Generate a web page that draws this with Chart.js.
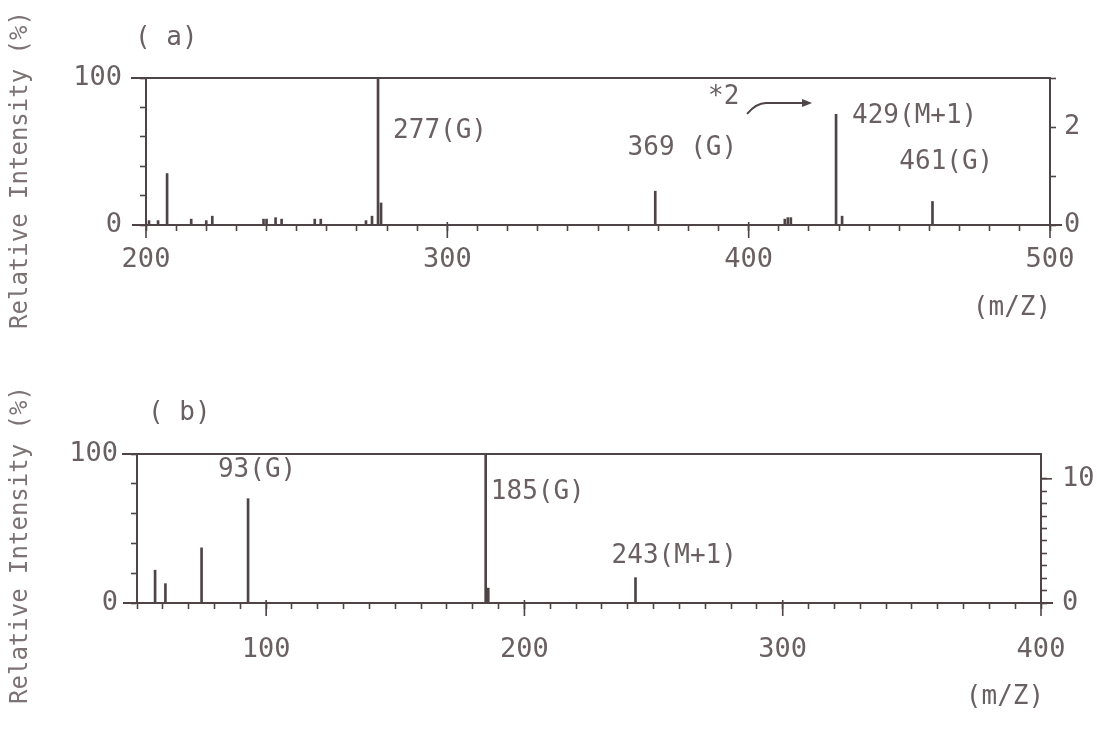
<!DOCTYPE html>
<html>
<head>
<meta charset="utf-8">
<script src="https://cdn.jsdelivr.net/npm/chart.js@4.4.1/dist/chart.umd.min.js"></script>
<style>
  html, body { margin: 0; padding: 0; background: #fff; }
  #wrap { position: relative; width: 1097px; height: 736px; overflow: hidden; }
  canvas { position: absolute; left: 0; }
  #panelA { top: 0; }
  #panelB { top: 370px; }
</style>
</head>
<body>
<div id="wrap">
  <canvas id="panelA" width="1097" height="370"></canvas>
  <canvas id="panelB" width="1097" height="366"></canvas>
</div>
<script>
// ---- data ----
// (a) peaks on the left % scale
const mzA  = [201, 204, 207, 215, 220, 222, 239, 240, 243, 245, 256, 258, 273, 275, 277, 278, 369, 412, 413, 414, 431, 461];
const intA = [3,   3,   35,  4,   3,   6,   4,   4,   5,   4,   4,   4,   3,   6,   100, 15,  23,  4,   5,   5,   6,   16];
// (a) peak read on the right-hand scale (*2)
const mzA2  = [429];
const intA2 = [2.26];
// (b) peaks
const mzB  = [57, 61, 75, 93, 185, 186, 243];
const intB = [22, 13, 37, 70, 100, 10, 17];

const ticksLeft   = [0, 100];
const ticksRightA = [0, 2];
const ticksRightB = [0, 10];

const INK = '#4e4345';
const TEXT = '#6a6062';
const TITLE = '#7d7375';
const FONT = "'DejaVu Sans Mono', monospace";

// labels placed in data units (x = m/z, y = % on left scale)
const notesA = [
  { text: '277(G)',   x: 282,   y: 64, align: 'left' },
  { text: '369 (G)',  x: 378,   y: 52, align: 'center' },
  { text: '429(M+1)', x: 434.3, y: 74, align: 'left' },
  { text: '461(G)',   x: 450,   y: 43, align: 'left' },
  { text: '*2',       x: 386.5, y: 87, align: 'left' }
];
const notesB = [
  { text: '93(G)',    x: 96.5,  y: 89,   align: 'center' },
  { text: '185(G)',   x: 187,   y: 74.5, align: 'left' },
  { text: '243(M+1)', x: 258,   y: 31.5, align: 'center' }
];

const framePlugin = {
  id: 'frame',
  afterDraw(chart, args, o) {
    const { ctx, chartArea: a, scales } = chart;
    const xs = scales.x, ys = scales.y;
    ctx.save();
    // box top and baseline running past the axes
    ctx.strokeStyle = INK;
    ctx.lineWidth = 2;
    ctx.beginPath();
    ctx.moveTo(a.left - 15, a.top);
    ctx.lineTo(a.right + 1, a.top);
    ctx.moveTo(a.left - 14, a.bottom);
    ctx.lineTo(a.right + 12, a.bottom);
    ctx.stroke();
    // longer ticks at every hundred
    ctx.lineWidth = 1.6;
    for (let v = Math.ceil(xs.min / 100) * 100; v <= xs.max; v += 100) {
      const px = xs.getPixelForValue(v);
      ctx.beginPath();
      ctx.moveTo(px, a.bottom - 3);
      ctx.lineTo(px, a.bottom + 13);
      ctx.stroke();
    }
    // longer tick at the labelled right-hand value
    if (o.rightMajor) {
      const py = scales.y1.getPixelForValue(o.rightMajor);
      ctx.beginPath();
      ctx.moveTo(a.right, py);
      ctx.lineTo(a.right + 11, py);
      ctx.stroke();
    }
    // arrow for the *2 peak
    if (o.arrowAt) {
      const ex = xs.getPixelForValue(o.arrowAt) - 24;
      const ey = ys.getPixelForValue(83);
      ctx.lineWidth = 2;
      ctx.beginPath();
      ctx.moveTo(ex - 65, ey + 11);
      ctx.quadraticCurveTo(ex - 56, ey, ex - 46, ey);
      ctx.lineTo(ex - 6, ey);
      ctx.stroke();
      ctx.fillStyle = INK;
      ctx.beginPath();
      ctx.moveTo(ex, ey);
      ctx.lineTo(ex - 10, ey - 4);
      ctx.lineTo(ex - 10, ey + 4);
      ctx.closePath();
      ctx.fill();
    }
    // peak labels
    ctx.fillStyle = TEXT;
    ctx.font = '26px ' + FONT;
    ctx.textBaseline = 'middle';
    o.notes.forEach(n => {
      ctx.textAlign = n.align;
      ctx.fillText(n.text, xs.getPixelForValue(n.x), ys.getPixelForValue(n.y));
    });
    // panel tag and unit
    ctx.textAlign = 'left';
    ctx.fillText(o.tag, o.tagX, o.tagY);
    ctx.textAlign = 'center';
    ctx.fillText('(m/Z)', o.unitX, o.unitY);
    // y title
    ctx.fillStyle = TITLE;
    ctx.font = '24px ' + FONT;
    ctx.translate(21, o.titleY);
    ctx.rotate(-Math.PI / 2);
    ctx.fillText('Relative Intensity (%)', 0, 0);
    ctx.restore();
  }
};

function axisX(min, max, pad) {
  return {
    type: 'linear', position: 'bottom', min: min, max: max, offset: false,
    border: { color: INK, width: 2 },
    grid: { display: true, drawOnChartArea: false, offset: false, tickLength: 6, tickColor: INK, tickWidth: 1.6 },
    ticks: {
      stepSize: 10, autoSkip: false, maxRotation: 0, padding: pad,
      color: TEXT, font: { family: FONT, size: 27 },
      callback: v => (v % 100 === 0 ? v : '')
    }
  };
}

function axisY(pos, max, step, labels, pad, lastTick) {
  return {
    type: 'linear', position: pos, min: 0, max: max,
    border: { color: INK, width: 2 },
    grid: {
      display: true, drawOnChartArea: false, tickLength: 6, tickWidth: 1.6,
      tickColor: c => (c.tick && c.tick.value > lastTick ? 'rgba(0,0,0,0)' : INK)
    },
    ticks: {
      stepSize: step, autoSkip: false, padding: pad,
      color: TEXT, font: { family: FONT, size: 27 },
      callback: v => (labels.includes(v) ? v : '')
    }
  };
}

function makePanel(id, cfg) {
  const bars = [{
    data: cfg.mz.map((m, i) => ({ x: m, y: cfg.val[i] })),
    yAxisID: 'y'
  }];
  if (cfg.mz2) {
    bars.push({
      data: cfg.mz2.map((m, i) => ({ x: m, y: cfg.val2[i] })),
      yAxisID: 'y1'
    });
  }
  bars.forEach(d => {
    d.backgroundColor = INK;
    d.barThickness = 2;
    d.grouped = false;
  });

  const sx = axisX(cfg.xMin, cfg.xMax, cfg.padX);
  sx.afterFit = s => { s.height = cfg.h - cfg.bottom; };
  const sy = axisY('left', 100, 20, ticksLeft, cfg.padL, 100);
  sy.afterFit = s => { s.width = cfg.left; };
  const sy1 = axisY('right', cfg.rMax, 1, cfg.rLabels, cfg.padR, cfg.rLast);
  sy1.afterFit = s => { s.width = 1097 - cfg.right; };

  return new Chart(document.getElementById(id), {
    type: 'bar',
    data: { datasets: bars },
    options: {
      responsive: false,
      animation: false,
      devicePixelRatio: 1,
      layout: { padding: { top: cfg.top, left: 0, right: 0, bottom: 0 } },
      plugins: {
        legend: { display: false },
        tooltip: { enabled: false },
        frame: cfg.frame
      },
      scales: { x: sx, y: sy, y1: sy1 }
    },
    plugins: [framePlugin]
  });
}

makePanel('panelA', {
  mz: mzA, val: intA, mz2: mzA2, val2: intA2,
  xMin: 200, xMax: 500, rMax: 3, rLast: 3, rLabels: ticksRightA,
  h: 370, top: 78, bottom: 225, left: 146, right: 1050, padL: 18, padR: 8, padX: 13,
  frame: { notes: notesA, arrowAt: 429, tag: '( a)', tagX: 135, tagY: 38, unitX: 1012, unitY: 308, titleY: 170 }
});

makePanel('panelB', {
  mz: mzB, val: intB,
  xMin: 50, xMax: 400, rMax: 12, rLast: 10, rLabels: ticksRightB,
  h: 366, top: 84, bottom: 233, left: 137, right: 1041, padL: 13, padR: 15, padX: 25,
  frame: { notes: notesB, rightMajor: 10, tag: '( b)', tagX: 148, tagY: 43, unitX: 1005, unitY: 327, titleY: 175 }
});
</script>
</body>
</html>
